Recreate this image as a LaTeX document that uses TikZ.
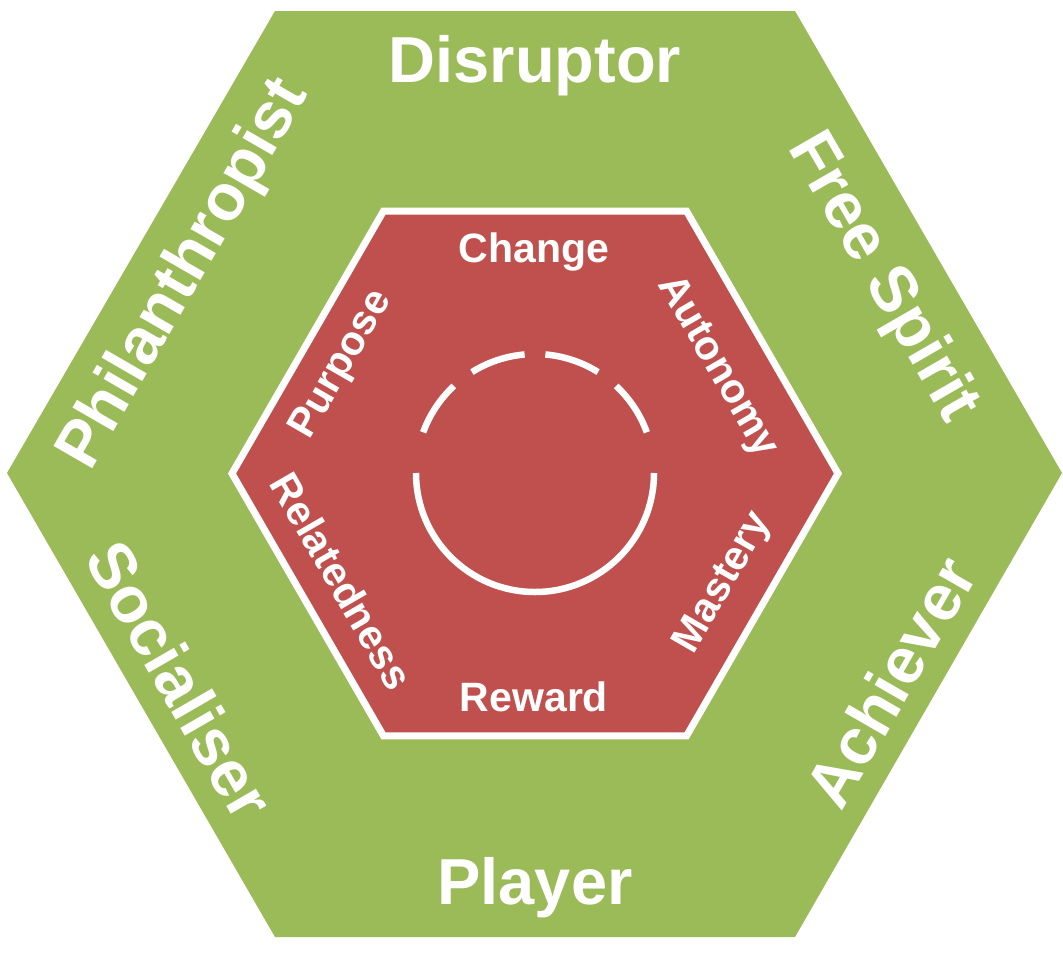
\documentclass[tikz,border=0pt]{standalone}
\usepackage{fontspec}
\setmainfont{Liberation Sans}
\usetikzlibrary{calc}
\definecolor{hexgreen}{HTML}{9BBB59}
\definecolor{hexred}{HTML}{C0504D}
\begin{document}
\begin{tikzpicture}[x=1pt,y=-1pt,
  outerlbl/.style={text=white,font=\bfseries\fontsize{65}{65}\selectfont,inner sep=0pt},
  innerlbl/.style={text=white,font=\bfseries\fontsize{41}{41}\selectfont,inner sep=0pt},
  ring/.style={draw=white,line width=6.5pt,line cap=butt}]
\useasboundingbox (0,0) rectangle (1063,953);
% outer hexagon
\fill[hexgreen] (7,473) -- (275,11) -- (795,11) -- (1062,473) -- (795,937) -- (275,937) -- cycle;
% inner hexagon
\coordinate (c) at (535,473.5);
\draw[fill=hexred,draw=white,line width=7pt,line join=miter]
  ($(c)+(-303,0)$) -- ($(c)+(-151.5,-262.4)$) -- ($(c)+(151.5,-262.4)$) -- ($(c)+(303,0)$)
  -- ($(c)+(151.5,262.4)$) -- ($(c)+(-151.5,262.4)$) -- cycle;
% ring
\coordinate (rc) at (535,473);
\draw[ring] (rc) ++(0:119) arc[start angle=0,end angle=180,radius=119];
\foreach \a/\b in {-20/-47,-58/-85,-95/-122,-133/-160}{
  \draw[ring] (rc) ++(\a:119) arc[start angle=\a,end angle=\b,radius=119];
}
% outer labels
\node[outerlbl] (dis) at (535,66) {Disruptor};
\node[outerlbl] (ply) at (535,888) {Player};
\node[outerlbl,rotate=60] (phi) at (185,275) {Philanthropist};
\node[outerlbl,rotate=-60] (fre) at (882,278) {Free Spirit};
\node[outerlbl,rotate=-60] (soc) at (180,680) {Socialiser};
\node[outerlbl,rotate=60] (ach) at (890,682) {Achiever};
% inner labels
\node[innerlbl] (chg) at (534,252) {Change};
\node[innerlbl] (rew) at (534,697) {Reward};
\node[innerlbl,rotate=60] (pur) at (342,365) {Purpose};
\node[innerlbl,rotate=-60] (aut) at (717,367) {Autonomy};
\node[innerlbl,rotate=-60] (rel) at (342,581) {Relatedness};
\node[innerlbl,rotate=60] (mas) at (724,583) {Mastery};
\end{tikzpicture}
\end{document}
